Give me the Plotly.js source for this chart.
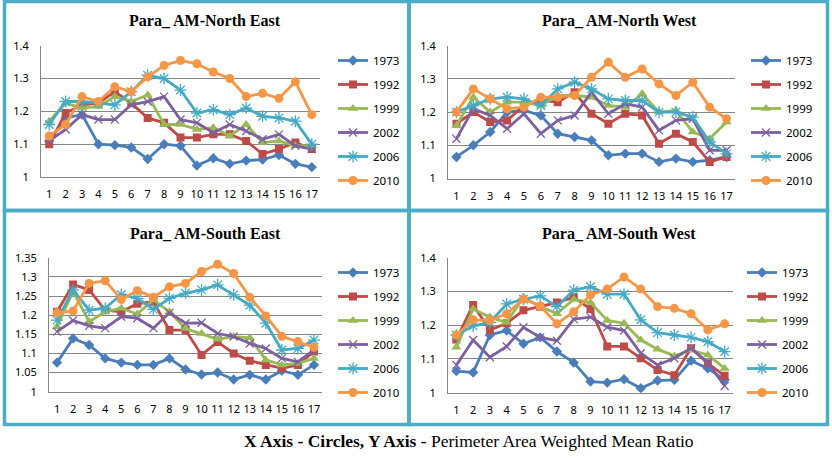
<!DOCTYPE html>
<html><head><meta charset="utf-8">
<script src="https://cdn.plot.ly/plotly-3.0.1.min.js"></script>
<style>html,body{margin:0;padding:0;background:#fff;} #chart{width:832px;height:460px;}</style>
</head><body><div id="chart"></div>
<script>
// ---- data ----
const categories = ['1','2','3','4','5','6','7','8','9','10','11','12','13','14','15','16','17'];
const years = ['1973','1992','1999','2002','2006','2010'];

const ne1973 = [1.11,1.18,1.19,1.10,1.097,1.09,1.055,1.10,1.095,1.035,1.057,1.04,1.05,1.053,1.067,1.04,1.03];
const ne1992 = [1.10,1.195,1.22,1.225,1.26,1.225,1.18,1.165,1.12,1.12,1.13,1.13,1.11,1.07,1.085,1.105,1.085];
const ne1999 = [1.17,1.225,1.21,1.215,1.245,1.23,1.25,1.16,1.16,1.145,1.15,1.125,1.16,1.105,1.11,1.095,1.095];
const ne2002 = [1.11,1.145,1.19,1.175,1.175,1.22,1.23,1.245,1.175,1.165,1.135,1.16,1.14,1.115,1.13,1.095,1.085];
const ne2006 = [1.16,1.23,1.23,1.225,1.22,1.26,1.31,1.30,1.265,1.195,1.205,1.19,1.21,1.185,1.18,1.17,1.10];
const ne2010 = [1.125,1.16,1.245,1.23,1.275,1.26,1.305,1.34,1.355,1.345,1.32,1.30,1.245,1.255,1.24,1.29,1.19];

const nw1973 = [1.065,1.10,1.14,1.20,1.205,1.19,1.135,1.125,1.115,1.07,1.075,1.075,1.05,1.06,1.05,1.055,1.065];
const nw1992 = [1.165,1.20,1.17,1.175,1.22,1.235,1.23,1.26,1.195,1.165,1.195,1.19,1.105,1.135,1.11,1.05,1.065];
const nw1999 = [1.16,1.245,1.20,1.23,1.23,1.22,1.25,1.25,1.245,1.22,1.215,1.255,1.20,1.205,1.14,1.12,1.17];
const nw2002 = [1.12,1.21,1.19,1.15,1.195,1.135,1.175,1.19,1.26,1.195,1.225,1.215,1.145,1.175,1.18,1.085,1.085];
const nw2006 = [1.20,1.22,1.24,1.245,1.24,1.22,1.27,1.29,1.27,1.24,1.235,1.235,1.20,1.20,1.185,1.11,1.075];
const nw2010 = [1.20,1.27,1.24,1.21,1.215,1.245,1.245,1.25,1.305,1.35,1.305,1.33,1.285,1.25,1.29,1.215,1.18];

const se1973 = [1.076,1.139,1.122,1.087,1.076,1.07,1.07,1.087,1.058,1.045,1.05,1.032,1.044,1.032,1.055,1.044,1.07];
const se1992 = [1.209,1.28,1.266,1.213,1.209,1.23,1.235,1.161,1.161,1.096,1.13,1.10,1.081,1.07,1.061,1.07,1.105];
const se1999 = [1.17,1.262,1.183,1.209,1.218,1.203,1.24,1.209,1.165,1.152,1.137,1.144,1.141,1.083,1.07,1.074,1.087];
const se2002 = [1.157,1.186,1.172,1.166,1.196,1.192,1.166,1.206,1.179,1.18,1.152,1.144,1.126,1.113,1.087,1.078,1.109];
const se2006 = [1.187,1.266,1.213,1.218,1.254,1.244,1.215,1.244,1.257,1.266,1.279,1.253,1.226,1.179,1.109,1.113,1.135];
const se2010 = [1.206,1.211,1.283,1.29,1.241,1.264,1.247,1.274,1.283,1.314,1.333,1.309,1.247,1.198,1.145,1.131,1.116];

const sw1973 = [1.064,1.06,1.171,1.184,1.145,1.164,1.122,1.089,1.033,1.03,1.04,1.013,1.036,1.038,1.095,1.072,1.038];
const sw1992 = [1.158,1.26,1.186,1.206,1.244,1.255,1.267,1.283,1.248,1.137,1.137,1.102,1.067,1.052,1.132,1.087,1.05];
const sw1999 = [1.135,1.248,1.224,1.208,1.283,1.255,1.234,1.277,1.267,1.214,1.206,1.156,1.129,1.109,1.127,1.112,1.072];
const sw2002 = [1.082,1.156,1.105,1.137,1.194,1.164,1.154,1.218,1.224,1.194,1.184,1.117,1.082,1.102,1.132,1.089,1.02];
const sw2006 = [1.171,1.198,1.208,1.263,1.277,1.287,1.255,1.304,1.314,1.292,1.292,1.216,1.178,1.171,1.164,1.151,1.122];
const sw2010 = [1.171,1.216,1.214,1.234,1.277,1.257,1.204,1.24,1.29,1.307,1.343,1.307,1.255,1.25,1.234,1.186,1.204];

const neSeries = [ne1973, ne1992, ne1999, ne2002, ne2006, ne2010];
const nwSeries = [nw1973, nw1992, nw1999, nw2002, nw2006, nw2010];
const seSeries = [se1973, se1992, se1999, se2002, se2006, se2010];
const swSeries = [sw1973, sw1992, sw1999, sw2002, sw2006, sw2010];

const panelTitles = ['Para_ AM-North East','Para_ AM-North West','Para_ AM-South East','Para_ AM-South West'];
const captionText = '<b>X Axis - Circles, Y Axis -</b> Perimeter Area Weighted Mean Ratio';

// ---- styles ----
const W = 832, H = 460;
const colors = ['#4A7EBB','#BE4B48','#98B954','#7D60A0','#46AAC5','#F79646'];
const symbols = ['diamond','square','triangle-up','x-thin-open','asterisk-open','circle'];
const msizes = [8,8,9,8,10,9];
const px = v => v / W;
const py = v => 1 - v / H;

const panels = [
  {series: neSeries, ax: '', leg: 'legend',  xd: [41,320],  yd: [45.7,177],  yr: [1,1.4],  dt: 0.1,  lx: 333, ly: 46,  tx: 205, ty: 21,  box: [4.5,409,1.5,210.5]},
  {series: nwSeries, ax: '2', leg: 'legend2', xd: [448,735], yd: [45.7,178.5], yr: [1,1.4],  dt: 0.1,  lx: 746, ly: 46,  tx: 619, ty: 21,  box: [409,827.5,1.5,210.5]},
  {series: seSeries, ax: '3', leg: 'legend3', xd: [49,322],  yd: [257.7,391.7],yr: [1,1.35], dt: 0.05, lx: 333, ly: 258, tx: 205, ty: 234, box: [4.5,409,210.5,424.5]},
  {series: swSeries, ax: '4', leg: 'legend4', xd: [448,733], yd: [257.7,392.7],yr: [1,1.4],  dt: 0.1,  lx: 742, ly: 258, tx: 619, ty: 234, box: [409,827.5,210.5,424.5]}
];

const traces = [];
const layout = {
  width: W, height: H,
  margin: {l:0, r:0, t:0, b:0},
  paper_bgcolor: '#fff', plot_bgcolor: '#fff',
  showlegend: true,
  font: {family: 'Noto Sans', size: 11, color: '#000'},
  shapes: [], annotations: []
};

panels.forEach((p, pi) => {
  p.series.forEach((vals, si) => {
    const isOpen = symbols[si].indexOf('open') >= 0;
    traces.push({
      type: 'scatter', mode: 'lines+markers',
      x: categories, y: vals, name: years[si],
      xaxis: 'x' + p.ax, yaxis: 'y' + p.ax,
      legend: p.leg, legendgroup: 'g' + pi + '_' + si,
      line: {color: colors[si], width: 2.8},
      marker: {symbol: symbols[si], size: msizes[si], color: colors[si],
               line: {color: colors[si], width: isOpen ? 1.3 : 0}}
    });
  });
  layout['xaxis' + p.ax] = {
    domain: [px(p.xd[0]), px(p.xd[1])], anchor: 'y' + p.ax,
    type: 'category', range: [-0.5, 16.5],
    showgrid: false, showline: true, linecolor: '#868686', linewidth: 1,
    ticks: '', tickfont: {family: 'Noto Sans', size: 11, color: '#000'},
    ticklabelstandoff: 7, fixedrange: true, zeroline: false
  };
  layout['yaxis' + p.ax] = {
    domain: [py(p.yd[1]), py(p.yd[0])], anchor: 'x' + p.ax,
    range: [p.yr[0], p.yr[1] + 0.0001], dtick: p.dt, tick0: 1,
    showgrid: true, gridcolor: '#868686', gridwidth: 1,
    showline: true, linecolor: '#868686', linewidth: 1,
    ticks: '', tickfont: {family: 'Noto Sans', size: 11, color: '#000'},
    ticklabelstandoff: 9, zeroline: false, fixedrange: true
  };
  layout[p.leg] = {
    x: px(p.lx), y: py(p.ly), xanchor: 'left', yanchor: 'top',
    bgcolor: 'rgba(0,0,0,0)', borderwidth: 0,
    font: {family: 'Noto Sans', size: 11.5, color: '#000'},
    tracegroupgap: 5, itemwidth: 30, orientation: 'v'
  };
  layout.shapes.push({type: 'rect', xref: 'paper', yref: 'paper',
    x0: px(p.box[0]), x1: px(p.box[1]), y0: py(p.box[2]), y1: py(p.box[3]),
    line: {color: '#4BACC6', width: 3.5}, fillcolor: 'rgba(0,0,0,0)', layer: 'above'});
  layout.annotations.push({xref: 'paper', yref: 'paper', x: px(p.tx), y: py(p.ty),
    xanchor: 'center', yanchor: 'middle', showarrow: false,
    text: '<b>' + panelTitles[pi] + '</b>',
    font: {family: 'Liberation Serif', size: 16, color: '#000'}});
});

layout.annotations.push({xref: 'paper', yref: 'paper', x: px(469), y: py(441),
  xanchor: 'center', yanchor: 'middle', showarrow: false, text: captionText,
  font: {family: 'Liberation Serif', size: 17.5, color: '#000'}});

Plotly.newPlot('chart', traces, layout, {displayModeBar: false, staticPlot: true});
</script>
</body></html>
